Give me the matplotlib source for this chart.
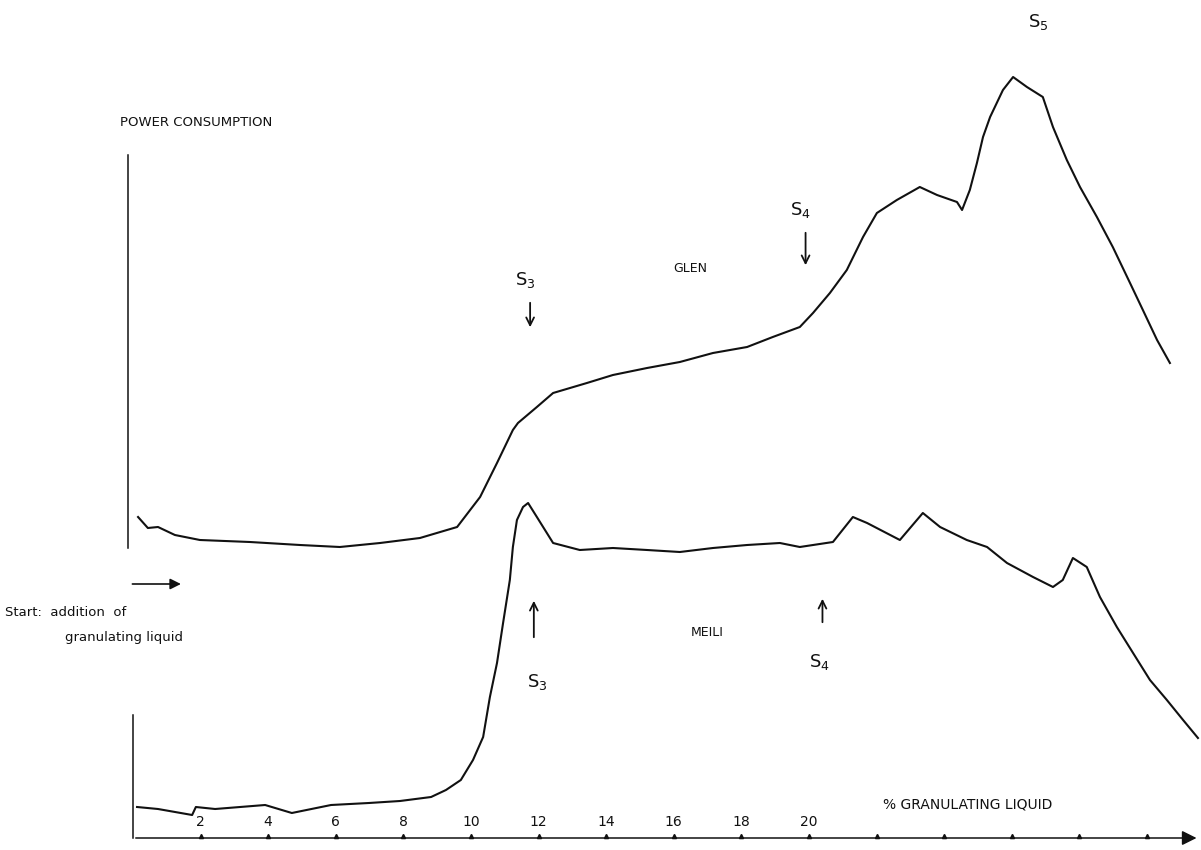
import matplotlib.pyplot as plt

# power consumption traces (x = % granulating liquid, y = arbitrary units)
glen_x = [0.15, 0.44, 0.74, 1.24, 1.98, 3.46, 4.94, 6.12, 7.31, 8.49, 9.59, 10.27, 10.77,
          11.24, 11.39, 11.95, 12.43, 13.43, 14.20, 15.21, 16.18, 17.16, 18.17, 18.93, 19.73,
          20.12, 20.62, 21.12, 21.60, 22.01, 22.60, 23.28, 23.79, 24.38, 24.53, 24.76, 24.97,
          25.15, 25.36, 25.74, 26.04, 26.45, 26.92, 27.22, 27.63, 28.02, 28.52, 28.99, 29.50,
          29.88, 30.30, 30.68]
glen_y = [32.1, 31.0, 31.1, 30.3, 29.8, 29.6, 29.3, 29.1, 29.5, 30.0, 31.1, 34.1, 37.5,
          40.8, 41.5, 43.1, 44.5, 45.5, 46.3, 47.0, 47.6, 48.5, 49.1, 50.1, 51.1,
          52.5, 54.5, 56.8, 60.1, 62.5, 63.8, 65.1, 64.3, 63.6, 62.8, 64.8, 67.5,
          70.1, 72.1, 74.8, 76.1, 75.1, 74.1, 71.1, 67.8, 65.1, 62.1, 59.1, 55.5,
          52.8, 49.8, 47.5]

meili_x = [0.12, 0.74, 1.75, 1.86, 2.43, 3.91, 4.70, 5.86, 6.98, 7.90, 8.82, 9.26, 9.70,
           10.06, 10.36, 10.56, 10.77, 10.95, 11.15, 11.24, 11.36, 11.54, 11.69, 11.95, 12.43,
           13.22, 14.20, 15.21, 16.18, 17.16, 18.17, 19.14, 19.73, 20.71, 21.30, 21.72, 22.69,
           23.37, 23.88, 24.67, 25.27, 25.86, 26.63, 27.22, 27.51, 27.81, 28.22, 28.61, 29.11,
           29.59, 30.09, 30.59, 31.07, 31.51]
meili_y = [3.1, 2.9, 2.3, 3.1, 2.9, 3.3, 2.5, 3.3, 3.5, 3.7, 4.1, 4.8, 5.8,
           7.8, 10.1, 14.1, 17.5, 21.5, 25.8, 29.1, 31.8, 33.1, 33.5, 32.1, 29.5,
           28.8, 29.0, 28.8, 28.6, 29.0, 29.3, 29.5, 29.1, 29.6, 32.1, 31.5, 29.8,
           32.5, 31.1, 29.8, 29.1, 27.5, 26.1, 25.1, 25.8, 28.0, 27.1, 24.1, 21.1,
           18.5, 15.8, 13.8, 11.8, 10.0]

tick_pos = list(range(2, 31, 2))
tick_labels = ['2', '4', '6', '8', '10', '12', '14', '16', '18', '20']

fig = plt.figure(figsize=(12.01, 8.5), dpi=100)
ax = fig.add_axes([0, 0, 1, 1])
ax.set_xlim(-3.935, 31.6)
ax.set_ylim(-1.2, 83.8)
ax.axis('off')

ink = '#111111'
font = 'DejaVu Sans'

ax.plot(glen_x, glen_y, color=ink, lw=1.5)
ax.plot(meili_x, meili_y, color=ink, lw=1.5)

# vertical reference lines for the two recorder traces
ax.plot([-0.15, -0.15], [29.0, 68.3], color=ink, lw=1.1)
ax.plot([0.0, 0.0], [0.0, 12.3], color=ink, lw=1.1)

# x axis with arrow head and small tick bumps
ax.annotate('', xy=(31.55, 0), xytext=(0, 0),
            arrowprops=dict(arrowstyle='-|>', color=ink, lw=1.1, mutation_scale=22))
ax.plot(tick_pos, [0.2] * len(tick_pos), ls='none', marker='^', ms=3, color=ink)
for pos, lab in zip(tick_pos, tick_labels):
    ax.text(pos, 1.6, lab, ha='center', va='center', fontsize=10, family=font, color=ink)
ax.text(22.2, 3.3, '% GRANULATING LIQUID', ha='left', va='center', fontsize=10,
        family=font, color=ink)

ax.text(-0.38, 71.6, 'POWER CONSUMPTION', ha='left', va='center', fontsize=9.5,
        family=font, color=ink)
ax.text(16.5, 57.0, 'GLEN', ha='center', va='center', fontsize=9, family=font, color=ink)
ax.text(17.0, 20.6, 'MEILI', ha='center', va='center', fontsize=9, family=font, color=ink)

# start marker
ax.annotate('', xy=(1.5, 25.4), xytext=(-0.1, 25.4),
            arrowprops=dict(arrowstyle='-|>', color=ink, lw=1.2, mutation_scale=16))
ax.text(-3.79, 22.6, 'Start:  addition  of', ha='left', va='center', fontsize=9.5,
        family=font, color=ink)
ax.text(-2.0, 20.1, 'granulating liquid', ha='left', va='center', fontsize=9.5,
        family=font, color=ink)

# stage markers
arrow_kw = dict(arrowstyle='->', color=ink, lw=1.3, mutation_scale=14)
ax.text(11.6, 55.8, 'S$_3$', ha='center', va='center', fontsize=13, family=font, color=ink)
ax.annotate('', xy=(11.75, 50.8), xytext=(11.75, 53.8), arrowprops=arrow_kw)
ax.text(19.75, 62.8, 'S$_4$', ha='center', va='center', fontsize=13, family=font, color=ink)
ax.annotate('', xy=(19.9, 57.0), xytext=(19.9, 60.8), arrowprops=arrow_kw)
ax.text(26.8, 81.6, 'S$_5$', ha='center', va='center', fontsize=13, family=font, color=ink)

ax.annotate('', xy=(11.86, 24.0), xytext=(11.86, 19.8), arrowprops=arrow_kw)
ax.text(11.95, 15.6, 'S$_3$', ha='center', va='center', fontsize=13, family=font, color=ink)
ax.annotate('', xy=(20.4, 24.2), xytext=(20.4, 21.3), arrowprops=arrow_kw)
ax.text(20.3, 17.6, 'S$_4$', ha='center', va='center', fontsize=13, family=font, color=ink)

fig.savefig('out.png', dpi=100)
